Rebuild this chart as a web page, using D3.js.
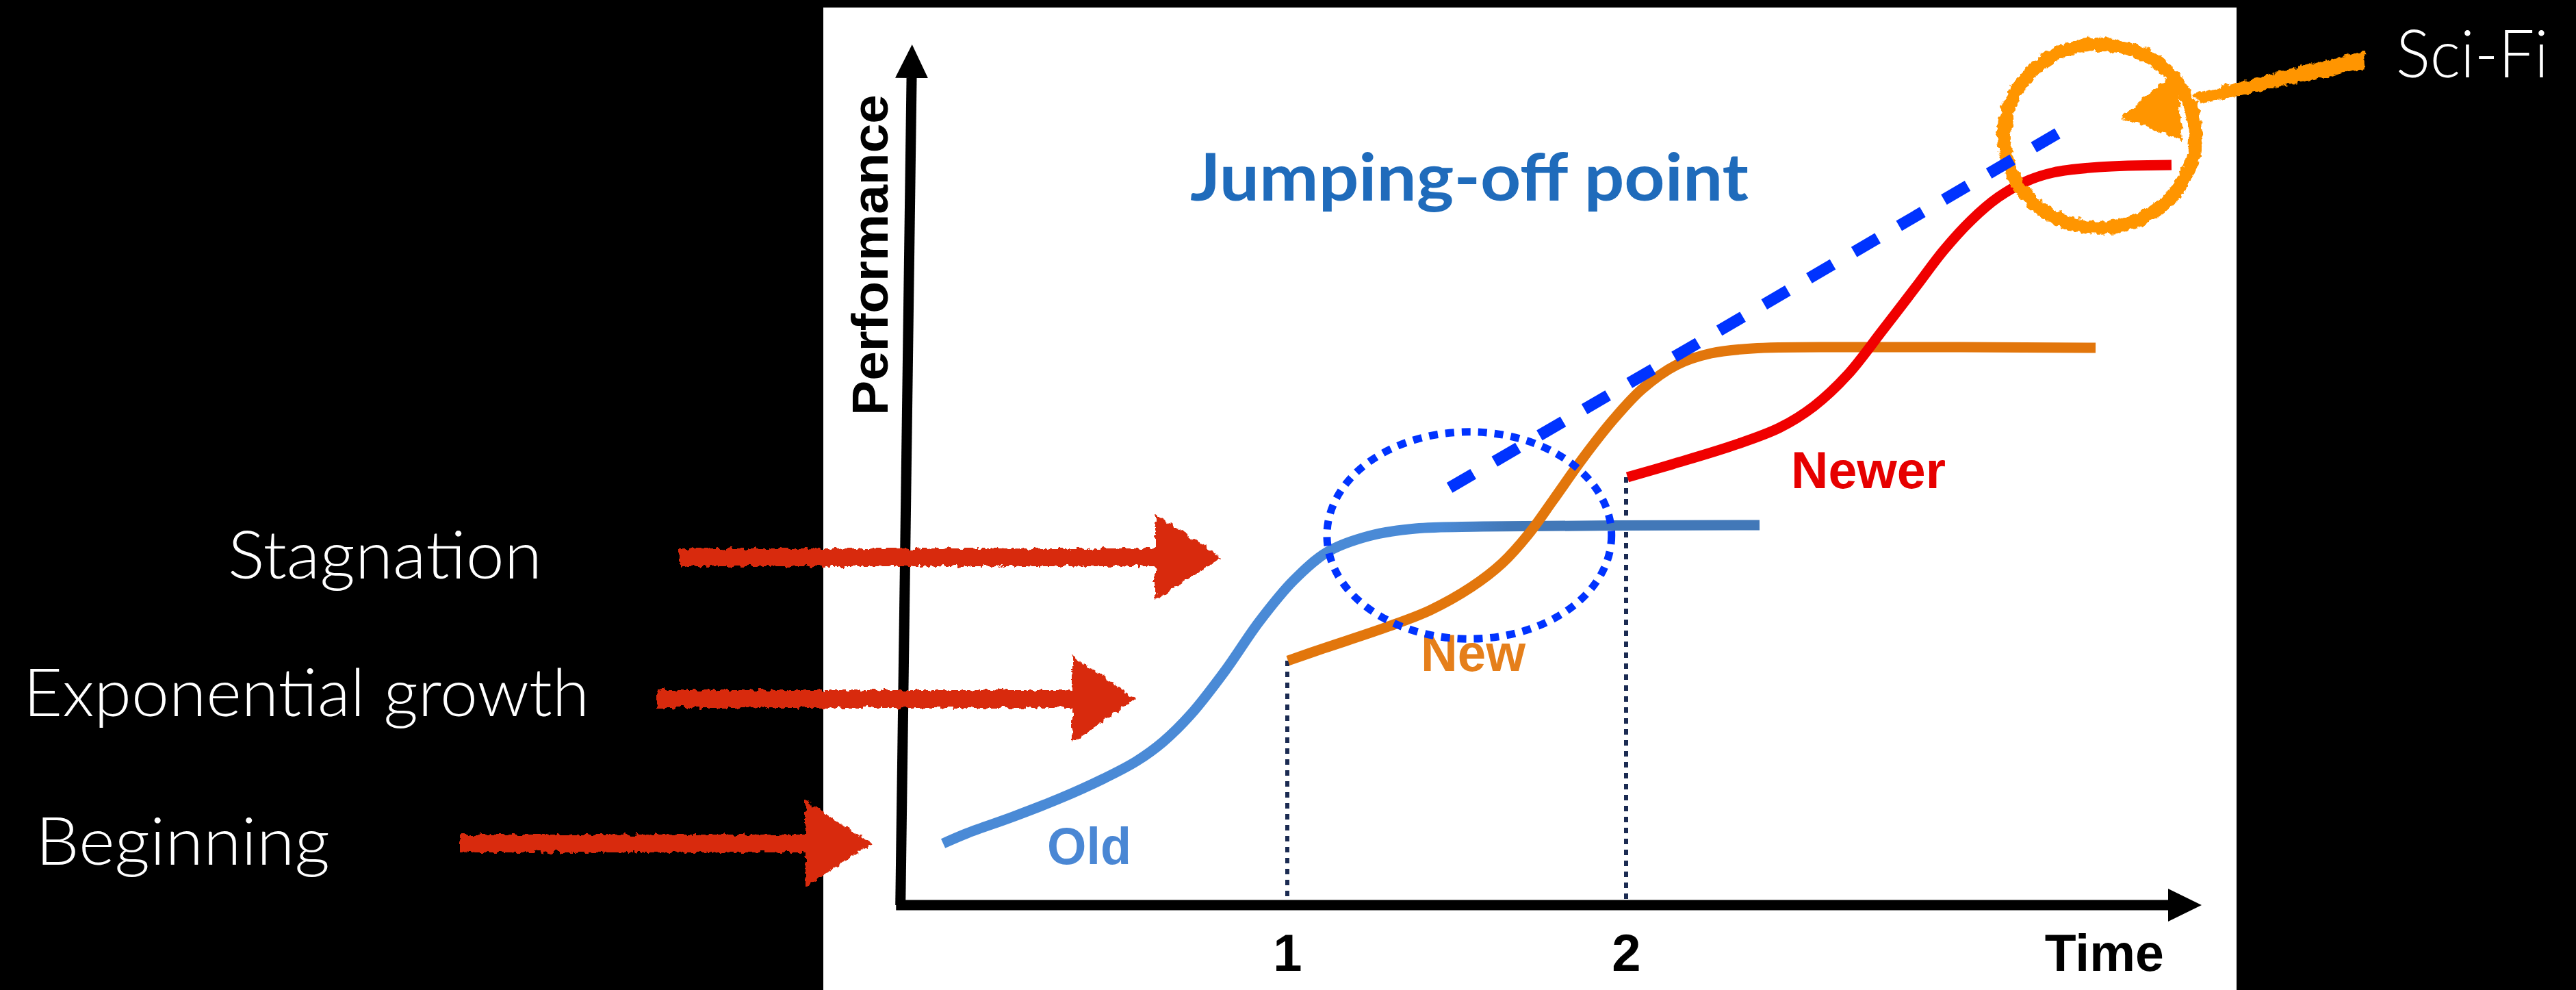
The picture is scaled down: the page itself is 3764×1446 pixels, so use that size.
<!DOCTYPE html>
<html><head><meta charset="utf-8">
<script src="https://cdn.jsdelivr.net/npm/d3@7"></script>
<style>html,body{margin:0;padding:0;background:#000;overflow:hidden}</style>
</head><body>
<svg id="chart" width="3764" height="1446"></svg>
<script>
// ---------------- data ----------------
const tickValues = [1, 2];
const tickLabels = ["1", "2"];
const xTitle = "Time";
const yTitle = "Performance";

const oldX = [-0.016, 0.055, 0.19, 0.325, 0.459, 0.554, 0.634, 0.715, 0.816, 0.917, 1.018, 1.119, 1.24, 1.378, 1.576, 2.394];
const oldY = [0.75, 0.875, 1.075, 1.292, 1.542, 1.75, 1.99, 2.32, 2.85, 3.45, 3.95, 4.30, 4.492, 4.583, 4.608, 4.625];

const newX = [1.002, 1.107, 1.287, 1.422, 1.543, 1.634, 1.711, 1.784, 1.873, 1.964, 2.048, 2.149, 2.251, 2.372, 2.655, 3.386];
const newY = [2.975, 3.125, 3.375, 3.59, 3.87, 4.16, 4.51, 4.925, 5.442, 5.917, 6.283, 6.575, 6.717, 6.775, 6.792, 6.783];

const newerX = [2.004, 2.137, 2.313, 2.453, 2.554, 2.655, 2.756, 2.857, 2.937, 3.018, 3.099, 3.18, 3.261, 3.396, 3.61];
const newerY = [5.208, 5.367, 5.59, 5.81, 6.07, 6.46, 6.99, 7.533, 7.967, 8.333, 8.617, 8.808, 8.917, 8.983, 9.008];

const seriesNames = ["Old", "New", "Newer"];

const jumpX = [1.479, 3.285];
const jumpY = [5.08, 9.42];
const jumpLabel = "Jumping-off point";

const stageLabels = ["Stagnation", "Exponential growth", "Beginning"];
const sciFiLabel = "Sci-Fi";

// ---------------- layout ----------------
const svg = d3.select("#chart");
const x = d3.scaleLinear().domain([0, 4]).range([1386, 3366]);
const y = d3.scaleLinear().domain([0, 10]).range([1322, 122]);

const defs = svg.append("defs");
const f = defs.append("filter").attr("id", "rough")
  .attr("x", "-10%").attr("y", "-30%").attr("width", "120%").attr("height", "160%");
f.append("feTurbulence").attr("type", "fractalNoise").attr("baseFrequency", "0.11")
  .attr("numOctaves", 3).attr("seed", 7).attr("result", "noise");
f.append("feDisplacementMap").attr("in", "SourceGraphic").attr("in2", "noise")
  .attr("scale", 10).attr("xChannelSelector", "R").attr("yChannelSelector", "G");

defs.append("marker").attr("id", "axArrow").attr("markerUnits", "userSpaceOnUse")
  .attr("viewBox", "0 -25 50 50").attr("refX", 0).attr("refY", 0)
  .attr("markerWidth", 50).attr("markerHeight", 50).attr("orient", "auto")
  .append("path").attr("d", "M0,-24L49,0L0,24Z").attr("fill", "#000");

const grad = defs.append("linearGradient").attr("id", "oldGrad")
  .attr("gradientUnits", "userSpaceOnUse")
  .attr("x1", x(1.45)).attr("x2", x(1.65)).attr("y1", 0).attr("y2", 0);
grad.append("stop").attr("offset", 0).attr("stop-color", "#4a8ad6");
grad.append("stop").attr("offset", 1).attr("stop-color", "#4278b8");

// background + white panel
svg.append("rect").attr("width", 3764).attr("height", 1446).attr("fill", "#000");
svg.append("rect").attr("x", 1203).attr("y", 11).attr("width", 2065).attr("height", 1435).attr("fill", "#fff");

// dotted verticals
const drops = [[1, newY[0]], [2, newerY[0]]];
svg.append("g").selectAll("line").data(drops).join("line")
  .attr("x1", d => x(d[0])).attr("x2", d => x(d[0]))
  .attr("y1", d => y(d[1])).attr("y2", y(0))
  .attr("stroke", "#1b2b52").attr("stroke-width", 6).attr("stroke-dasharray", "8 8");

// curves
const line = d3.line().x(d => x(d[0])).y(d => y(d[1])).curve(d3.curveCatmullRom.alpha(0.5));
const series = [
  {name: seriesNames[0], pts: d3.zip(oldX, oldY), color: "url(#oldGrad)"},
  {name: seriesNames[1], pts: d3.zip(newX, newY), color: "#e2760c"},
  {name: seriesNames[2], pts: d3.zip(newerX, newerY), color: "#f00000"}
];
svg.append("g").selectAll("path").data(series).join("path")
  .attr("d", d => line(d.pts)).attr("fill", "none")
  .attr("stroke", d => d.color).attr("stroke-width", 15).attr("stroke-linecap", "butt");

// series labels
const labelPos = [[0.291, 0.50, 123, "#4a87d4"], [1.394, 2.85, 153, "#e57f1b"], [2.487, 5.075, 226, "#e60000"]];
svg.append("g").selectAll("text").data(seriesNames).join("text")
  .attr("x", (d, i) => x(labelPos[i][0])).attr("y", (d, i) => y(labelPos[i][1]))
  .attr("textLength", (d, i) => labelPos[i][2]).attr("lengthAdjust", "spacingAndGlyphs")
  .attr("fill", (d, i) => labelPos[i][3])
  .style("font-family", "'Liberation Sans', Arial, sans-serif").style("font-weight", "bold")
  .style("font-size", "76px").text(d => d);

// axes lines
svg.append("line").attr("x1", x(-0.155)).attr("y1", y(0)).attr("x2", x(3.6)).attr("y2", y(0))
  .attr("stroke", "#000").attr("stroke-width", 15).attr("marker-end", "url(#axArrow)");
svg.append("line").attr("x1", x(-0.142)).attr("y1", y(0)).attr("x2", x(-0.109)).attr("y2", 114)
  .attr("stroke", "#000").attr("stroke-width", 15).attr("marker-end", "url(#axArrow)");

// tick labels via d3 axis
const gx = svg.append("g").attr("transform", `translate(0,${y(0)})`)
  .call(d3.axisBottom(x).tickValues(tickValues).tickFormat((d, i) => tickLabels[i]).tickSize(0));
gx.select(".domain").remove();
gx.attr("font-size", null).attr("font-family", null);
gx.selectAll("text").attr("y", 96).attr("dy", "0")
  .style("font-family", "'Liberation Sans', Arial, sans-serif").style("font-weight", "bold")
  .style("font-size", "76px").attr("fill", "#000");

svg.append("text").attr("x", x(3.236)).attr("y", 1418)
  .attr("textLength", 174).attr("lengthAdjust", "spacingAndGlyphs")
  .style("font-family", "'Liberation Sans', Arial, sans-serif").style("font-weight", "bold")
  .style("font-size", "76px").attr("fill", "#000").text(xTitle);

svg.append("text").attr("transform", "translate(1297,607) rotate(-90)")
  .attr("textLength", 469).attr("lengthAdjust", "spacingAndGlyphs")
  .style("font-family", "'Liberation Sans', Arial, sans-serif").style("font-weight", "bold")
  .style("font-size", "75px").attr("fill", "#000").text(yTitle);

// jumping-off label
svg.append("text").attr("x", x(0.713)).attr("y", y(8.575))
  .attr("textLength", 816).attr("lengthAdjust", "spacingAndGlyphs")
  .style("font-family", "Lato, 'Open Sans', sans-serif").style("font-weight", "bold")
  .style("font-size", "96px").attr("fill", "#1f6bbb").text(jumpLabel);

// dotted ellipse
svg.append("ellipse").attr("cx", x(1.537)).attr("cy", y(4.5))
  .attr("rx", x(1.957) - x(1.537)).attr("ry", y(4.5) - y(5.76))
  .attr("fill", "none").attr("stroke", "#0033ff").attr("stroke-width", 11)
  .attr("stroke-dasharray", "13 11");

// orange sci-fi ring and arrow
const og = svg.append("g").attr("filter", "url(#rough)").attr("fill", "#ff9500");
og.append("ellipse").attr("cx", x(3.398)).attr("cy", y(9.36))
  .attr("rx", x(3.681) - x(3.398)).attr("ry", y(9.36) - y(10.477))
  .attr("fill", "none").attr("stroke", "#ff9500").attr("stroke-width", 20);
og.append("path").attr("d", "M3455,74 L3456,100 L3212,152 L3206,137 Z");
og.append("path").attr("d", "M3180,104 L3100,171 L3190,206 Z");

// jump dashed line
svg.append("line").attr("x1", x(jumpX[0])).attr("y1", y(jumpY[0]))
  .attr("x2", x(jumpX[1])).attr("y2", y(jumpY[1]))
  .attr("stroke", "#0033ff").attr("stroke-width", 17).attr("stroke-dasharray", "40 36");

// left stage arrows
const arrows = [
  {tail: 993, base: 1688, tip: 1785, cy: 814},
  {tail: 959, base: 1567, tip: 1659, cy: 1021},
  {tail: 672, base: 1177, tip: 1274, cy: 1232}
];
const rg = svg.append("g").attr("filter", "url(#rough)").attr("fill", "#d82a0a");
rg.selectAll("path").data(arrows).join("path")
  .attr("d", d => `M${d.tail},${d.cy - 13} L${d.base},${d.cy - 13} L${d.base},${d.cy - 63} L${d.tip},${d.cy} L${d.base},${d.cy + 63} L${d.base},${d.cy + 13} L${d.tail},${d.cy + 13} Z`);

// white annotation texts
const stagePos = [[333, 845, 459], [34, 1046, 827], [52, 1263, 430]];
svg.append("g").selectAll("text").data(stageLabels).join("text")
  .attr("x", (d, i) => stagePos[i][0]).attr("y", (d, i) => stagePos[i][1])
  .attr("textLength", (d, i) => stagePos[i][2]).attr("lengthAdjust", "spacingAndGlyphs")
  .style("font-family", "Lato, 'Open Sans', sans-serif").style("font-weight", 300)
  .style("font-size", "97px").attr("fill", "#fff").text(d => d);

svg.append("text").attr("x", 3501).attr("y", 113)
  .attr("textLength", 223).attr("lengthAdjust", "spacingAndGlyphs")
  .style("font-family", "Lato, 'Open Sans', sans-serif").style("font-weight", 300)
  .style("font-size", "97px").attr("fill", "#fff").text(sciFiLabel);
</script>
</body></html>
